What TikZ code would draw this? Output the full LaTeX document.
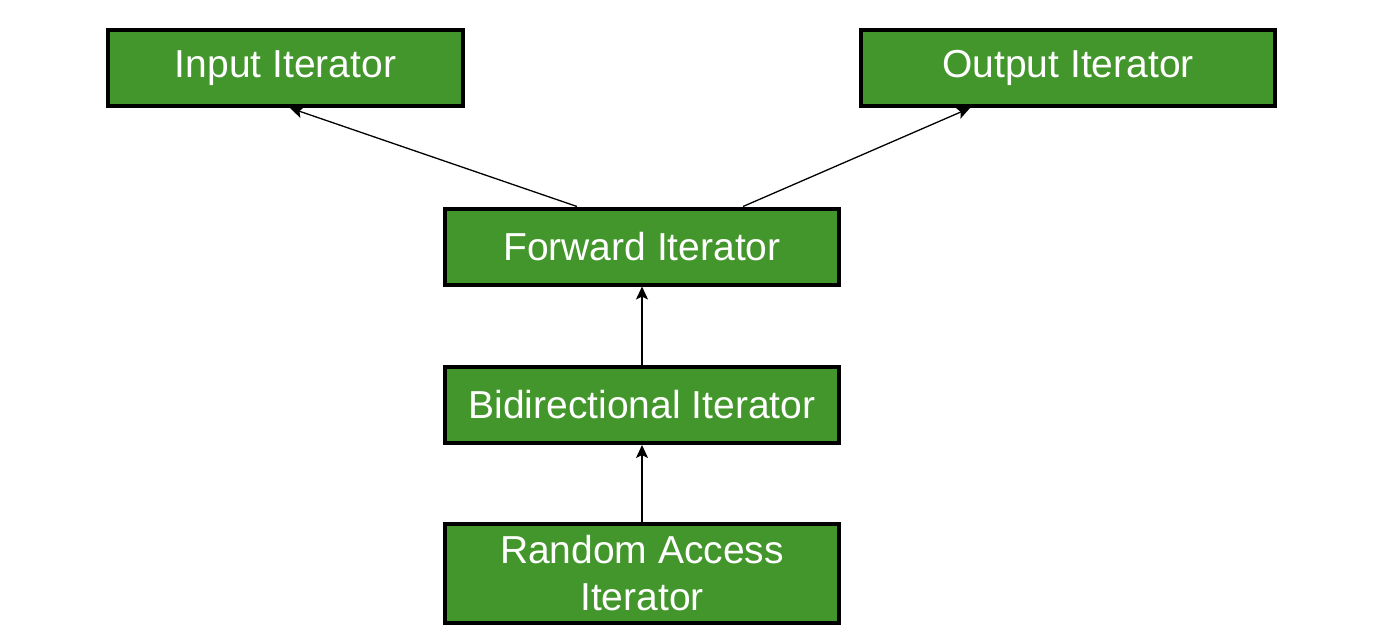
\documentclass[tikz,border=0pt]{standalone}
\usepackage{fontspec}
\setmainfont{Liberation Sans}
\usepackage{tikz}
\usetikzlibrary{arrows.meta}

\definecolor{itgreen}{HTML}{43962B}

\begin{document}
\begin{tikzpicture}[x=1pt,y=-1pt,
    itbox/.style={draw=black,line width=4pt,fill=itgreen,text=white,
        font=\fontsize{39}{47}\selectfont,align=center,inner sep=0pt,
        minimum height=76pt},
    link/.style={line width=1.3pt,-{Stealth[length=13pt,width=12pt,inset=3pt]}}]

\useasboundingbox (0,0) rectangle (1378,638);

\node [itbox,minimum width=355pt] (input) at (285.5,68) {Input Iterator};
\node [itbox,minimum width=414pt] (output) at (1068,68) {Output Iterator};
\node [itbox,minimum width=394pt] (forward) at (642,246.5) {Forward Iterator};
\node [itbox,minimum width=394pt] (bidir) at (642,405) {Bidirectional Iterator};
\node [itbox,minimum width=394pt,minimum height=99pt] (random) at (642,573.5) {Random Access\\Iterator};

\draw [link] ([xshift=-65pt]forward.north) -- ([xshift=4.5pt]input.south);
\draw [link] ([xshift=101pt]forward.north) -- ([xshift=-98pt]output.south);
\draw [link] (bidir) -- (forward);
\draw [link] (random) -- (bidir);

\end{tikzpicture}
\end{document}
